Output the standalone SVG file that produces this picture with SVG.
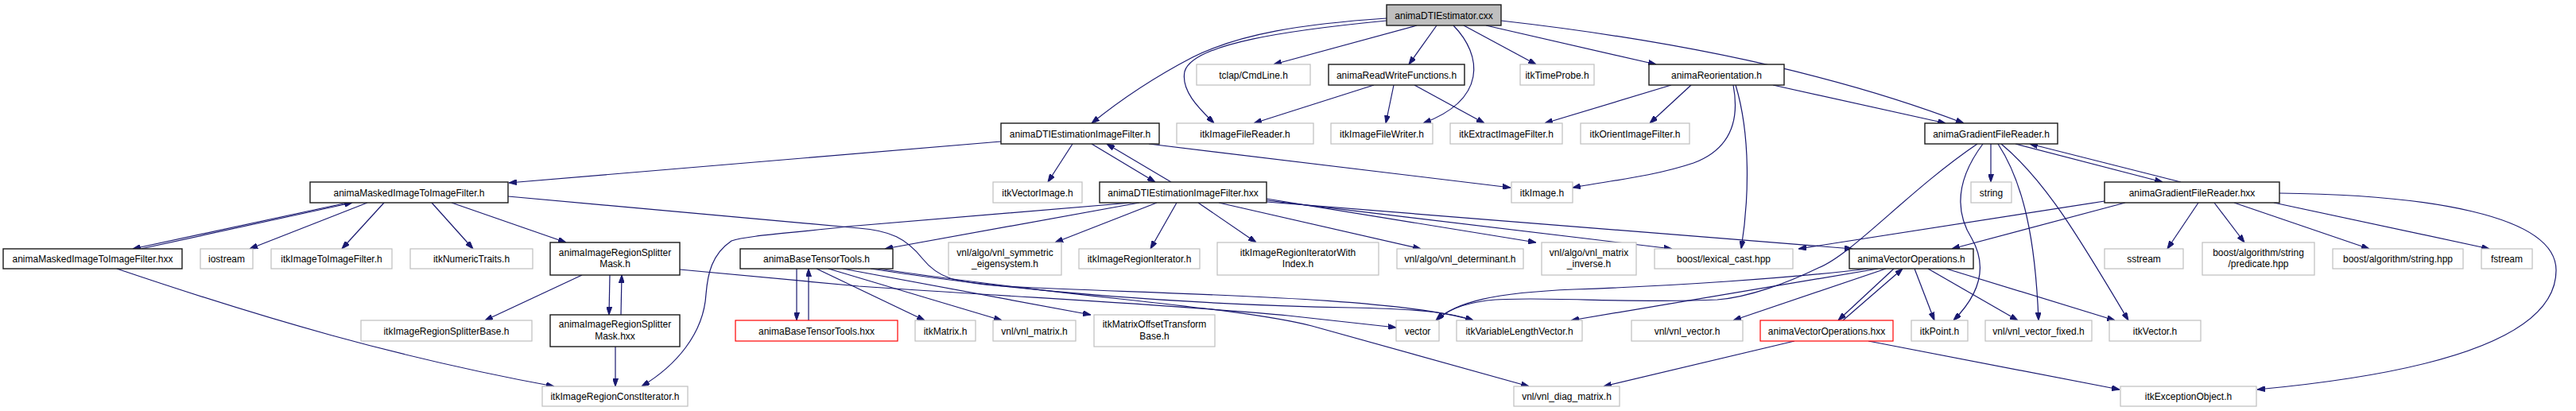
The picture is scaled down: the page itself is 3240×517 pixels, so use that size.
<svg xmlns="http://www.w3.org/2000/svg" width="3240" height="517" viewBox="0 0 3240 517">
<style>
.n rect{fill:#fff;stroke:#bfbfbf;stroke-width:1.2}
.n.d rect{stroke:#1a1a1a;stroke-width:1.4}
.n.r rect{stroke:#ff0000;stroke-width:1.2}
.n.root rect{fill:#bfbfbf;stroke:#1a1a1a;stroke-width:1.4}
.n text{font-family:"Liberation Sans",Arial,sans-serif;font-size:12px;fill:#000;text-anchor:middle}
#edges path{fill:none;stroke:#191970;stroke-width:1.2;marker-end:url(#ah)}
</style>
<defs>
<marker id="ah" markerWidth="10" markerHeight="7" refX="10" refY="3.5" orient="auto" markerUnits="userSpaceOnUse">
<path d="M0,0 L10,3.5 L0,7 z" fill="#191970" stroke="#191970"/>
</marker>
</defs>
<rect width="3240" height="517" fill="#fff"/>
<g id="edges">
<path d="M1744,23 C1640,30 1560,42 1500,72 C1450,98 1410,125 1373,155"/>
<path d="M1744,26 C1620,38 1500,55 1490,90 C1485,115 1510,138 1527,155"/>
<path d="M1782,32 L1602,81"/>
<path d="M1807,32 L1772,81"/>
<path d="M1828,32 C1865,70 1870,125 1790,155"/>
<path d="M1841,32 L1932,81"/>
<path d="M1869,32 L2083,81"/>
<path d="M1888,26 C2100,50 2300,90 2470,155"/>
<path d="M1728,107 L1577,155"/>
<path d="M1753,107 L1743,155"/>
<path d="M1779,107 L1867,155"/>
<path d="M2102,107 L1943,155"/>
<path d="M2127,107 L2075,155"/>
<path d="M2180,107 C2190,160 2170,190 2130,205 C2080,222 2020,228 1978,236"/>
<path d="M2183,107 C2202,170 2200,250 2190,313"/>
<path d="M2230,107 L2447,155"/>
<path d="M1259,178 L640,230"/>
<path d="M1349,181 L1318,229"/>
<path d="M1373,181 L1453,229"/>
<path d="M1473,229 L1392,181"/>
<path d="M1445,181 L1900,236"/>
<path d="M2504,181 L2504,229"/>
<path d="M2535,181 L2720,229"/>
<path d="M2743,229 L2553,181"/>
<path d="M2487,181 C2400,240 2330,320 2287,337 C2250,355 2200,374 2160,377 C2050,382 1930,372 1870,378 C1840,382 1820,390 1806,403"/>
<path d="M2494,181 C2465,220 2455,260 2480,300 C2500,335 2490,370 2457,403"/>
<path d="M2513,181 C2545,230 2560,300 2564,403"/>
<path d="M2517,181 C2570,225 2610,290 2677,403"/>
<path d="M2647,253 L2262,313"/>
<path d="M2673,255 L2455,313"/>
<path d="M2765,255 L2726,313"/>
<path d="M2785,255 L2823,305"/>
<path d="M2810,255 L2980,313"/>
<path d="M2860,255 L3131,313"/>
<path d="M2867,243 C3050,245 3215,270 3215,340 C3215,440 3000,475 2839,490"/>
<path d="M1423,255 L1065,285 C1000,293 940,296 920,303 C895,320 890,345 888,370 C885,420 850,460 807,486"/>
<path d="M1433,255 L1113,313"/>
<path d="M1455,255 L1327,305"/>
<path d="M1480,255 L1447,313"/>
<path d="M1507,255 L1580,305"/>
<path d="M1533,255 L1787,313"/>
<path d="M1593,250 L1932,305"/>
<path d="M1593,252 L2103,313"/>
<path d="M1593,254 L2330,313"/>
<path d="M437,255 L167,313"/>
<path d="M177,313 L443,255"/>
<path d="M462,255 L314,313"/>
<path d="M483,255 L430,313"/>
<path d="M543,255 L595,313"/>
<path d="M568,255 L712,305"/>
<path d="M639,247 L1080,287 C1120,290 1140,300 1160,325 C1180,350 1200,355 1260,360 C1450,370 1750,372 1853,403"/>
<path d="M147,338 C330,400 500,450 697,486"/>
<path d="M732,346 L610,403"/>
<path d="M767,346 L766,396"/>
<path d="M781,396 L782,346"/>
<path d="M774,436 L774,486"/>
<path d="M855,339 L1080,360 C1300,375 1500,385 1620,397 L1756,412"/>
<path d="M1002,338 L1002,403"/>
<path d="M1017,403 L1017,338"/>
<path d="M1027,338 L1163,403"/>
<path d="M1042,338 L1260,403"/>
<path d="M1060,338 L1372,396"/>
<path d="M1095,338 C1300,370 1500,383 1700,387 C1800,389 1830,395 1853,403"/>
<path d="M1105,338 C1350,375 1550,385 1650,410 L1923,486"/>
<path d="M2382,338 L2312,403"/>
<path d="M2318,403 L2393,338"/>
<path d="M2408,338 L2433,403"/>
<path d="M2425,338 L2538,403"/>
<path d="M2448,338 L2660,403"/>
<path d="M2372,338 L2180,403"/>
<path d="M2350,338 C2250,350 2100,360 1980,364 C1880,368 1830,380 1807,403"/>
<path d="M2362,338 L1976,403"/>
<path d="M2257,429 L2017,486"/>
<path d="M2350,429 L2666,490"/>
</g>
<g id="n_root" class="n root"><rect x="1744" y="6" width="144" height="26"/><text x="1816" y="23.5">animaDTIEstimator.cxx</text></g>
<g id="n_tclap" class="n"><rect x="1505" y="81" width="143" height="26"/><text x="1576.5" y="98.5">tclap/CmdLine.h</text></g>
<g id="n_readwrite" class="n d"><rect x="1671" y="81" width="171" height="26"/><text x="1756.5" y="98.5">animaReadWriteFunctions.h</text></g>
<g id="n_timeprobe" class="n"><rect x="1912" y="81" width="93" height="26"/><text x="1958.5" y="98.5">itkTimeProbe.h</text></g>
<g id="n_reorient" class="n d"><rect x="2074" y="81" width="170" height="26"/><text x="2159" y="98.5">animaReorientation.h</text></g>
<g id="n_dtifilter_h" class="n d"><rect x="1259" y="155" width="199" height="26"/><text x="1358.5" y="172.5">animaDTIEstimationImageFilter.h</text></g>
<g id="n_reader" class="n"><rect x="1480" y="155" width="172" height="26"/><text x="1566" y="172.5">itkImageFileReader.h</text></g>
<g id="n_writer" class="n"><rect x="1674" y="155" width="128" height="26"/><text x="1738" y="172.5">itkImageFileWriter.h</text></g>
<g id="n_extract" class="n"><rect x="1824" y="155" width="141" height="26"/><text x="1894.5" y="172.5">itkExtractImageFilter.h</text></g>
<g id="n_orient" class="n"><rect x="1988" y="155" width="137" height="26"/><text x="2056.5" y="172.5">itkOrientImageFilter.h</text></g>
<g id="n_grad_h" class="n d"><rect x="2421" y="155" width="167" height="26"/><text x="2504.5" y="172.5">animaGradientFileReader.h</text></g>
<g id="n_masked_h" class="n d"><rect x="390" y="229" width="249" height="26"/><text x="514.5" y="246.5">animaMaskedImageToImageFilter.h</text></g>
<g id="n_vectorimage" class="n"><rect x="1249" y="229" width="112" height="26"/><text x="1305" y="246.5">itkVectorImage.h</text></g>
<g id="n_dtifilter_hxx" class="n d"><rect x="1383" y="229" width="210" height="26"/><text x="1488" y="246.5">animaDTIEstimationImageFilter.hxx</text></g>
<g id="n_itkimage" class="n"><rect x="1901" y="229" width="77" height="26"/><text x="1939.5" y="246.5">itkImage.h</text></g>
<g id="n_string" class="n"><rect x="2479" y="229" width="51" height="26"/><text x="2504.5" y="246.5">string</text></g>
<g id="n_grad_hxx" class="n d"><rect x="2647" y="229" width="220" height="26"/><text x="2757" y="246.5">animaGradientFileReader.hxx</text></g>
<g id="n_masked_hxx" class="n d"><rect x="4" y="313" width="225" height="25"/><text x="116.5" y="330">animaMaskedImageToImageFilter.hxx</text></g>
<g id="n_iostream" class="n"><rect x="252" y="313" width="66" height="25"/><text x="285" y="330">iostream</text></g>
<g id="n_imgtoimg" class="n"><rect x="341" y="313" width="152" height="25"/><text x="417" y="330">itkImageToImageFilter.h</text></g>
<g id="n_numtraits" class="n"><rect x="516" y="313" width="154" height="25"/><text x="593" y="330">itkNumericTraits.h</text></g>
<g id="n_splitter_h" class="n d"><rect x="692" y="305" width="163" height="41"/><text x="773.5" y="321.5">animaImageRegionSplitter</text><text x="773.5" y="336">Mask.h</text></g>
<g id="n_tensor_h" class="n d"><rect x="931" y="313" width="192" height="25"/><text x="1027" y="330">animaBaseTensorTools.h</text></g>
<g id="n_symeig" class="n"><rect x="1193" y="305" width="142" height="41"/><text x="1264" y="321.5">vnl/algo/vnl_symmetric</text><text x="1264" y="336">_eigensystem.h</text></g>
<g id="n_regiter" class="n"><rect x="1357" y="313" width="152" height="25"/><text x="1433" y="330">itkImageRegionIterator.h</text></g>
<g id="n_regiteridx" class="n"><rect x="1531" y="305" width="203" height="41"/><text x="1632.5" y="321.5">itkImageRegionIteratorWith</text><text x="1632.5" y="336">Index.h</text></g>
<g id="n_det" class="n"><rect x="1757" y="313" width="159" height="25"/><text x="1836.5" y="330">vnl/algo/vnl_determinant.h</text></g>
<g id="n_matinv" class="n"><rect x="1939" y="305" width="119" height="41"/><text x="1998.5" y="321.5">vnl/algo/vnl_matrix</text><text x="1998.5" y="336">_inverse.h</text></g>
<g id="n_lexcast" class="n"><rect x="2081" y="313" width="174" height="25"/><text x="2168" y="330">boost/lexical_cast.hpp</text></g>
<g id="n_vecops_h" class="n d"><rect x="2326" y="313" width="156" height="25"/><text x="2404" y="330">animaVectorOperations.h</text></g>
<g id="n_sstream" class="n"><rect x="2647" y="313" width="99" height="25"/><text x="2696.5" y="330">sstream</text></g>
<g id="n_predicate" class="n"><rect x="2770" y="305" width="141" height="41"/><text x="2840.5" y="321.5">boost/algorithm/string</text><text x="2840.5" y="336">/predicate.hpp</text></g>
<g id="n_stringhpp" class="n"><rect x="2934" y="313" width="164" height="25"/><text x="3016" y="330">boost/algorithm/string.hpp</text></g>
<g id="n_fstream" class="n"><rect x="3121" y="313" width="64" height="25"/><text x="3153" y="330">fstream</text></g>
<g id="n_splitbase" class="n"><rect x="454" y="403" width="215" height="26"/><text x="561.5" y="420.5">itkImageRegionSplitterBase.h</text></g>
<g id="n_splitter_hxx" class="n d"><rect x="692" y="396" width="163" height="40"/><text x="773.5" y="412">animaImageRegionSplitter</text><text x="773.5" y="426.5">Mask.hxx</text></g>
<g id="n_tensor_hxx" class="n r"><rect x="925" y="403" width="204" height="26"/><text x="1027" y="420.5">animaBaseTensorTools.hxx</text></g>
<g id="n_itkmatrix" class="n"><rect x="1151" y="403" width="76" height="26"/><text x="1189" y="420.5">itkMatrix.h</text></g>
<g id="n_vnlmatrix" class="n"><rect x="1249" y="403" width="104" height="26"/><text x="1301" y="420.5">vnl/vnl_matrix.h</text></g>
<g id="n_mato" class="n"><rect x="1376" y="396" width="152" height="40"/><text x="1452" y="412">itkMatrixOffsetTransform</text><text x="1452" y="426.5">Base.h</text></g>
<g id="n_vector" class="n"><rect x="1756" y="403" width="54" height="26"/><text x="1783" y="420.5">vector</text></g>
<g id="n_vlv" class="n"><rect x="1832" y="403" width="158" height="26"/><text x="1911" y="420.5">itkVariableLengthVector.h</text></g>
<g id="n_vnlvector" class="n"><rect x="2052" y="403" width="140" height="26"/><text x="2122" y="420.5">vnl/vnl_vector.h</text></g>
<g id="n_vecops_hxx" class="n r"><rect x="2214" y="403" width="167" height="26"/><text x="2297.5" y="420.5">animaVectorOperations.hxx</text></g>
<g id="n_itkpoint" class="n"><rect x="2404" y="403" width="71" height="26"/><text x="2439.5" y="420.5">itkPoint.h</text></g>
<g id="n_vecfixed" class="n"><rect x="2497" y="403" width="134" height="26"/><text x="2564" y="420.5">vnl/vnl_vector_fixed.h</text></g>
<g id="n_itkvector" class="n"><rect x="2653" y="403" width="115" height="26"/><text x="2710.5" y="420.5">itkVector.h</text></g>
<g id="n_constiter" class="n"><rect x="682" y="486" width="183" height="25"/><text x="773.5" y="503">itkImageRegionConstIterator.h</text></g>
<g id="n_diag" class="n"><rect x="1904" y="486" width="133" height="25"/><text x="1970.5" y="503">vnl/vnl_diag_matrix.h</text></g>
<g id="n_except" class="n"><rect x="2667" y="486" width="171" height="25"/><text x="2752.5" y="503">itkExceptionObject.h</text></g>
</svg>
